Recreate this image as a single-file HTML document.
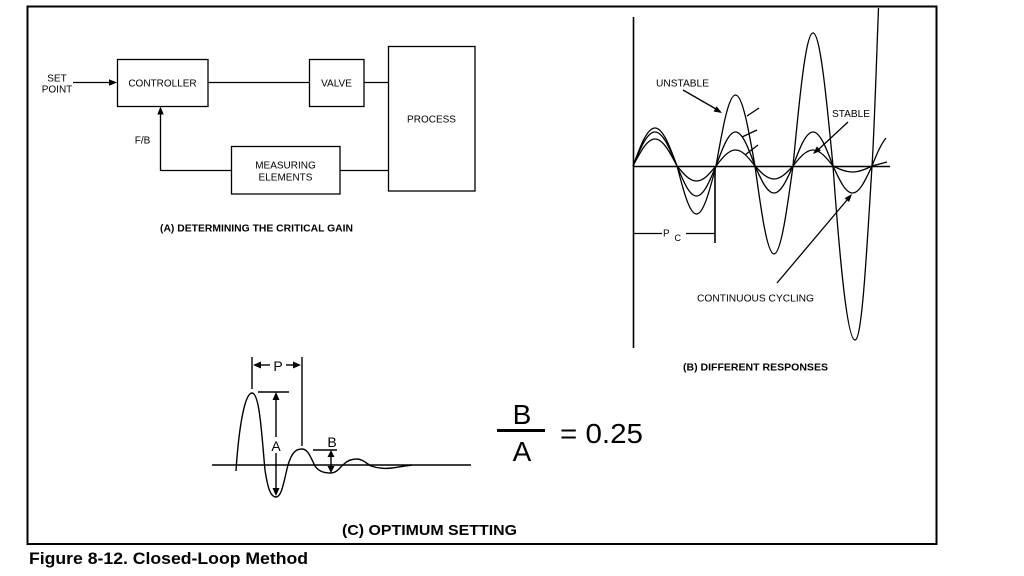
<!DOCTYPE html>
<html>
<head>
<meta charset="utf-8">
<style>
html,body{margin:0;padding:0;background:#fff;}
svg{display:block;}
text{font-family:"Liberation Sans",Arial,sans-serif;fill:#000;}
</style>
</head>
<body>
<svg width="1024" height="576" viewBox="0 0 1024 576" xmlns="http://www.w3.org/2000/svg">
<rect x="0" y="0" width="1024" height="576" fill="#fff"/>
<!-- frame -->
<rect x="27.5" y="6.5" width="909" height="537.5" fill="none" stroke="#000" stroke-width="2"/>

<!-- ===== Panel A ===== -->
<g fill="none" stroke="#000" stroke-width="1.3">
  <rect x="117.5" y="59.5" width="90.5" height="47"/>
  <rect x="309.5" y="59.5" width="54.5" height="47"/>
  <rect x="388.5" y="46.5" width="86.5" height="144.5"/>
  <rect x="231.5" y="146.5" width="108.5" height="47.5"/>
  <line x1="208" y1="82.5" x2="309.5" y2="82.5"/>
  <line x1="364" y1="82.5" x2="388.5" y2="82.5"/>
  <line x1="340" y1="170.5" x2="388.5" y2="170.5"/>
  <polyline points="231.5,170.5 160.5,170.5 160.5,113"/>
  <line x1="73" y1="82.5" x2="110" y2="82.5"/>
</g>
<polygon points="117,82.5 109,79.3 109,85.7" fill="#000"/>
<polygon points="160.5,106.5 157.3,114.5 163.7,114.5" fill="#000"/>
<g font-size="10" text-anchor="middle">
  <text x="57" y="81.5">SET</text>
  <text x="57" y="92.5">POINT</text>
  <text x="162.5" y="86.5">CONTROLLER</text>
  <text x="336.5" y="86.5">VALVE</text>
  <text x="431.5" y="122.5">PROCESS</text>
  <text x="285.5" y="168.5">MEASURING</text>
  <text x="285.5" y="180.5">ELEMENTS</text>
  <text x="142.5" y="143.5">F/B</text>
</g>
<text x="160" y="231.5" font-size="10" font-weight="bold" textLength="193" lengthAdjust="spacingAndGlyphs">(A)  DETERMINING THE CRITICAL GAIN</text>

<!-- ===== Panel B ===== -->
<g fill="none" stroke="#000" stroke-width="1.6">
  <line x1="633.5" y1="17" x2="633.5" y2="348"/>
  <line x1="633" y1="166.5" x2="890" y2="166.5"/>
  <line x1="715" y1="166" x2="715" y2="243"/>
</g>
<g fill="none" stroke="#000" stroke-width="1.3">
  <line x1="633" y1="233.5" x2="662" y2="233.5"/>
  <line x1="686" y1="233.5" x2="715" y2="233.5"/>
  <!-- unstable -->
  <path d="M633,166 C640.2,146.5 647,128 655,128 C663,128 669.8,146.5 677,166 C683.4,190.6 689.4,214 696.5,214 C703.6,214 709.6,190.6 716,166 C722.4,129.6 728.4,95 735.5,95 C742.6,95 748.6,129.6 755,166 C761.2,211.1 767.1,254 774,254 C780.9,254 786.8,211.1 793,166 C799.5,97.9 805.8,33 813,33 C820.2,33 826.5,97.9 833,166 C839.4,255.1 847,340 855,340 C862,340 866.5,255.1 872,166 C874,138 876.5,60 878.5,8"/>
  <!-- continuous -->
  <path d="M633,166 C640.2,148.6 647,132 655,132 C663,132 669.8,148.6 677,166 C683.4,181.4 689.4,196 696.5,196 C703.6,196 709.6,181.4 716,166 C722.4,148.6 728.4,132 735.5,132 C742.6,132 748.6,148.6 755,166 C761.2,179.8 767.1,193 774,193 C780.9,193 786.8,179.8 793,166 C799.5,148.6 805.8,132 813,132 C820.2,132 826.5,148.6 833,166 C839.4,179.8 845.4,193 852.5,193 C859.6,193 865.6,179.8 872,166 C877,153 881,144 886,138"/>
  <!-- stable -->
  <path d="M633,166 C640.2,152.2 647,139 655,139 C663,139 669.8,152.2 677,166 C683.4,173.7 689.4,181 696.5,181 C703.6,181 709.6,173.7 716,166 C722.4,157.8 728.4,150 735.5,150 C742.6,150 748.6,157.8 755,166 C761.2,172.7 767.1,179 774,179 C780.9,179 786.8,172.7 793,166 C799.5,157.8 805.8,150 813,150 C820.2,150 826.5,157.8 833,166 C839.4,169.1 845.4,172 852.5,172 C859.6,172 865.6,169.1 872,166 C877,164.5 882,163.5 887,162"/>
  <!-- leader ticks -->
  <line x1="747" y1="116" x2="759" y2="108"/>
  <line x1="742" y1="137" x2="757" y2="130"/>
  <line x1="745" y1="155" x2="758" y2="145"/>
  <!-- arrows -->
  <line x1="683" y1="90" x2="716" y2="109"/>
  <line x1="848" y1="122" x2="819" y2="149"/>
  <line x1="777" y1="283" x2="847" y2="200"/>
</g>
<polygon points="722,113 713.6,111.5 716.6,106.3" fill="#000"/>
<polygon points="813,154 816.9,146.4 820.9,150.8" fill="#000"/>
<polygon points="852,194 849.1,202 844.6,198.2" fill="#000"/>
<g font-size="10">
  <text x="656" y="86.5" textLength="53" lengthAdjust="spacingAndGlyphs">UNSTABLE</text>
  <text x="832" y="117" textLength="38" lengthAdjust="spacingAndGlyphs">STABLE</text>
  <text x="697" y="301.5" textLength="117" lengthAdjust="spacingAndGlyphs">CONTINUOUS CYCLING</text>
  <text x="663" y="236.5" font-size="10">P</text>
  <text x="674.5" y="241" font-size="9">C</text>
</g>
<text x="683" y="370.5" font-size="10" font-weight="bold" textLength="145" lengthAdjust="spacingAndGlyphs">(B)  DIFFERENT RESPONSES</text>

<!-- ===== Panel C ===== -->
<g fill="none" stroke="#000" stroke-width="1.4">
  <line x1="212" y1="465" x2="471" y2="465"/>
  <path d="M236,471 C239,425 245,393 252,393 C260,393 262,440 265,470 C268,490 271,497 276,497 C282,497 284,480 288,465 C292,452 296,449 302,449 C308,449 311,458 315,466 C319,472 325,473 331,473 C337,473 340,467 344,464 C348,460 352,459 357,459 C362,459 366,463 371,466 C377,468 384,469 392,468 C399,467 404,466 412,465"/>
  <line x1="252" y1="357" x2="252" y2="389"/>
  <line x1="302" y1="357" x2="302" y2="446"/>
  <line x1="259" y1="365" x2="270" y2="365"/>
  <line x1="286" y1="365" x2="295" y2="365"/>
  <line x1="258" y1="392" x2="289" y2="392"/>
  <line x1="276" y1="399" x2="276" y2="437"/>
  <line x1="276" y1="453" x2="276" y2="489"/>
  <line x1="313" y1="450" x2="337" y2="450"/>
  <line x1="331" y1="456" x2="331" y2="467"/>
</g>
<g fill="#000">
  <polygon points="253,365 261,361.5 261,368.5"/>
  <polygon points="301,365 293,361.5 293,368.5"/>
  <polygon points="276,392 272.5,400 279.5,400"/>
  <polygon points="276,496 272.5,488 279.5,488"/>
  <polygon points="331,450 327.5,457 334.5,457"/>
  <polygon points="331,473 327.5,466 334.5,466"/>
</g>
<g font-size="14" text-anchor="middle">
  <text x="278" y="371">P</text>
  <text x="276" y="451">A</text>
  <text x="332" y="447">B</text>
</g>
<!-- fraction -->
<rect x="497" y="429" width="48" height="3" fill="#000"/>
<g font-size="28" text-anchor="middle">
  <text x="522" y="424">B</text>
  <text x="522" y="461">A</text>
</g>
<text x="560" y="443" font-size="28" textLength="83" lengthAdjust="spacingAndGlyphs">= 0.25</text>
<text x="342" y="535" font-size="15" font-weight="bold" textLength="175" lengthAdjust="spacingAndGlyphs">(C)  OPTIMUM SETTING</text>

<!-- caption -->
<text x="29" y="564" font-size="17" font-weight="bold" textLength="279" lengthAdjust="spacingAndGlyphs">Figure 8-12. Closed-Loop Method</text>
</svg>
</body>
</html>
